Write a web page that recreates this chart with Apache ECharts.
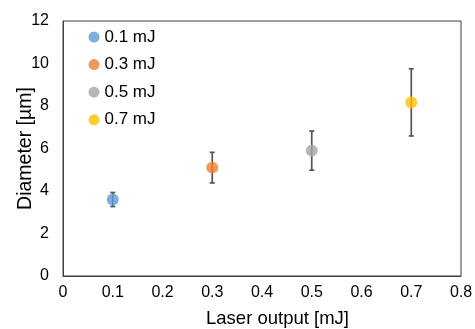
<!DOCTYPE html>
<html>
<head>
<meta charset="utf-8">
<script src="https://cdn.jsdelivr.net/npm/echarts@6/dist/echarts.min.js"></script>
<style>
  html, body { margin: 0; padding: 0; background: #fff; }
  #main { width: 475px; height: 329px; }
</style>
</head>
<body>
<div id="main"></div>
<script>
// data
const names = ['0.1 mJ', '0.3 mJ', '0.5 mJ', '0.7 mJ'];
const laserOutput = [0.1, 0.3, 0.5, 0.7];
const diameter = [3.6, 5.1, 5.9, 8.17];
const errorBar = [0.33, 0.72, 0.92, 1.58];
const colors = ['#5B9BD5', '#ED7D31', '#A5A5A5', '#FFC000'];

const font = 'Liberation Sans, Arial, sans-serif';
const chart = echarts.init(document.getElementById('main'));

const series = [];
names.forEach((n, i) => {
  // error bar first so the dot sits on top
  series.push({
    type: 'custom',
    name: n + ' err',
    data: [[laserOutput[i], diameter[i] - errorBar[i], diameter[i] + errorBar[i]]],
    renderItem: (params, api) => {
      const lo = api.coord([api.value(0), api.value(1)]);
      const hi = api.coord([api.value(0), api.value(2)]);
      const w = 2.5;
      const style = { stroke: '#555555', lineWidth: 1.7 };
      return {
        type: 'group',
        children: [
          { type: 'line', shape: { x1: lo[0], y1: lo[1], x2: hi[0], y2: hi[1] }, style },
          { type: 'line', shape: { x1: lo[0] - w, y1: lo[1], x2: lo[0] + w, y2: lo[1] }, style },
          { type: 'line', shape: { x1: hi[0] - w, y1: hi[1], x2: hi[0] + w, y2: hi[1] }, style }
        ]
      };
    },
    z: 2,
    silent: true
  });
  series.push({
    type: 'scatter',
    name: n,
    data: [[laserOutput[i], diameter[i]]],
    symbol: 'circle',
    symbolSize: 12,
    itemStyle: { color: colors[i] },
    z: 3
  });
});

chart.setOption({
  animation: false,
  grid: {
    left: 63, right: 14, top: 21, bottom: 53,
    outerBoundsMode: 'none', containLabel: false,
    show: true, borderColor: '#404040', borderWidth: 1
  },
  legend: {
    data: names,
    orient: 'vertical',
    left: 88.5,
    top: 28,
    padding: 0,
    icon: 'circle',
    itemWidth: 11,
    itemHeight: 11,
    itemGap: 9.6,
    textStyle: { fontFamily: font, fontSize: 17, lineHeight: 18, color: '#000' }
  },
  xAxis: {
    type: 'value',
    min: 0,
    max: 0.8,
    interval: 0.1,
    name: 'Laser output [mJ]',
    nameLocation: 'middle',
    nameGap: 33,
    nameMoveOverlap: false,
    nameTextStyle: { fontFamily: font, fontSize: 18.5, color: '#000', padding: [0, 0, 0, 31], verticalAlign: 'top' },
    axisLine: { show: true, lineStyle: { color: '#404040', width: 1 } },
    axisTick: { show: false },
    splitLine: { show: false },
    axisLabel: { fontFamily: font, fontSize: 16, color: '#000', margin: 9,
      formatter: v => +v.toFixed(1) + '' }
  },
  yAxis: {
    type: 'value',
    min: 0,
    max: 12,
    interval: 2,
    name: 'Diameter [µm]',
    nameLocation: 'middle',
    nameGap: 27,
    nameMoveOverlap: false,
    nameTextStyle: { fontFamily: font, fontSize: 19.5, color: '#000' },
    axisLine: { show: true, lineStyle: { color: '#404040', width: 1 } },
    axisTick: { show: false },
    splitLine: { show: false },
    axisLabel: { fontFamily: font, fontSize: 16, color: '#000', margin: 14 }
  },
  series
});
</script>
</body>
</html>
